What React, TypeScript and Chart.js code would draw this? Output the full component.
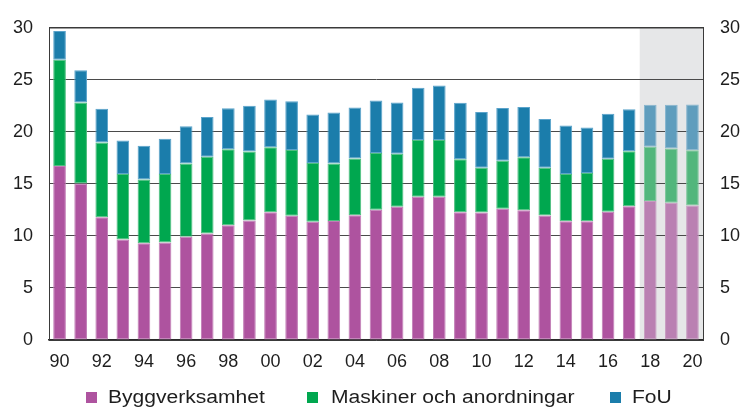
import { useEffect, useRef } from "react";
import { Chart, registerables } from "chart.js";

Chart.register(...registerables);

const years = [
  "1990", "1991", "1992", "1993", "1994", "1995", "1996", "1997", "1998", "1999",
  "2000", "2001", "2002", "2003", "2004", "2005", "2006", "2007", "2008", "2009",
  "2010", "2011", "2012", "2013", "2014", "2015", "2016", "2017", "2018", "2019", "2020",
];

const xTickLabels = [
  "90", "", "92", "", "94", "", "96", "", "98", "",
  "00", "", "02", "", "04", "", "06", "", "08", "",
  "10", "", "12", "", "14", "", "16", "", "18", "", "20",
];

const byggverksamhet = [
  16.73, 15.05, 11.8, 9.65, 9.3, 9.37, 9.93, 10.24, 11.02, 11.49,
  12.27, 11.93, 11.36, 11.43, 11.99, 12.52, 12.8, 13.77, 13.77, 12.27,
  12.24, 12.61, 12.46, 11.96, 11.4, 11.4, 12.33, 12.86, 13.36, 13.18, 12.93,
];

const maskiner = [
  10.21, 7.77, 7.18, 6.3, 6.12, 6.58, 7.02, 7.37, 7.31, 6.62,
  6.24, 6.33, 5.66, 5.52, 5.46, 5.46, 5.09, 5.46, 5.46, 5.09,
  4.31, 4.62, 5.09, 4.59, 4.55, 4.65, 5.09, 5.28, 5.22, 5.21, 5.3,
];

const fou = [
  2.75, 3.09, 3.25, 3.22, 3.25, 3.38, 3.59, 3.81, 3.93, 4.4,
  4.59, 4.69, 4.65, 4.9, 4.9, 5.03, 4.93, 5.0, 5.22, 5.43,
  5.37, 5.06, 4.84, 4.68, 4.66, 4.37, 4.31, 4.03, 4.02, 4.21, 4.41,
];

const seriesNames = ["Byggverksamhet", "Maskiner och anordningar", "FoU"];
const firstForecastIndex = 28;

const solidColors = ["#AE539F", "#00A74F", "#1B7DAB"];
const solidEdges = ["#C07CB5", "#4DBE7E", "#5AA3CB"];
const forecastColors = ["#BA80B2", "#52B67C", "#5F9DBD"];
const forecastEdges = ["#C79BC0", "#7CC69A", "#86B5CE"];

const yMin = 0;
const yMax = 30;
const yStep = 5;

const FONT = "'Liberation Sans', Arial, sans-serif";

const forecastShade = {
  id: "forecastShade",
  beforeDraw(chart: any) {
    const { ctx, chartArea, scales } = chart;
    const x = scales.x;
    const step = x.getPixelForValue(1) - x.getPixelForValue(0);
    const left = x.getPixelForValue(firstForecastIndex) - step / 2;
    ctx.save();
    ctx.fillStyle = "#E6E7E8";
    ctx.fillRect(left, chartArea.top, chartArea.right - left, chartArea.bottom - chartArea.top);
    ctx.restore();
  },
};

const legendBoxX = [86, 307, 610];
const legendTextX = [108, 331, 632];

const customLegend = {
  id: "customLegend",
  afterDraw(chart: any) {
    const { ctx } = chart;
    ctx.save();
    seriesNames.forEach((name, i) => {
      ctx.fillStyle = solidColors[i];
      ctx.fillRect(legendBoxX[i], 392, 11, 11);
      ctx.save();
      ctx.translate(legendTextX[i], 403);
      ctx.scale(1.17, 1);
      ctx.fillStyle = "#1e1e1e";
      ctx.font = `18px ${FONT}`;
      ctx.textBaseline = "alphabetic";
      ctx.textAlign = "left";
      ctx.fillText(name, 0, 0);
      ctx.restore();
    });
    ctx.restore();
  },
};

function colorsFor(seriesIndex: number, fills: string[], forecast: string[]) {
  return years.map((_, i) =>
    i >= firstForecastIndex ? forecast[seriesIndex] : fills[seriesIndex]
  );
}

export default function App() {
  const canvasRef = useRef<HTMLCanvasElement | null>(null);

  useEffect(() => {
    const canvas = canvasRef.current;
    if (!canvas) return;
    const seriesData = [byggverksamhet, maskiner, fou];
    const chart = new Chart(canvas, {
      type: "bar",
      data: {
        labels: years,
        datasets: seriesData.map((d, i) => ({
          label: seriesNames[i],
          data: d,
          backgroundColor: colorsFor(i, solidColors, forecastColors),
          borderColor: colorsFor(i, solidEdges, forecastEdges),
          borderWidth: 1,
          borderSkipped: false,
          categoryPercentage: 1,
          barPercentage: 0.6,
          yAxisID: "y",
        })),
      },
      options: {
        responsive: false,
        animation: false,
        layout: { padding: { top: 20, bottom: 0, left: 0, right: 0 } },
        plugins: {
          legend: { display: false },
          tooltip: { enabled: false },
        },
        scales: {
          x: {
            stacked: true,
            grid: { display: false, drawTicks: false },
            border: { display: true, color: "#2a2a2a", width: 1.6 },
            ticks: {
              autoSkip: false,
              maxRotation: 0,
              padding: 11,
              color: "#1e1e1e",
              font: { size: 18, family: FONT },
              callback: (_v: any, i: number) => xTickLabels[i],
            },
            afterFit: (s: any) => {
              s.height = 67;
            },
          },
          y: {
            stacked: true,
            position: "left",
            min: yMin,
            max: yMax,
            grid: {
              color: (c: any) => (c.tick && c.tick.value === yMax ? "#3a3a3a" : "#4a4a4a"),
              lineWidth: (c: any) => (c.tick && c.tick.value === yMax ? 1.6 : 1),
              drawTicks: false,
            },
            border: { display: true, color: "#3a3a3a", width: 1 },
            ticks: {
              stepSize: yStep,
              padding: 16,
              color: "#1e1e1e",
              font: { size: 18, family: FONT },
            },
            afterFit: (s: any) => {
              s.width = 49;
            },
          },
          y2: {
            position: "right",
            min: yMin,
            max: yMax,
            grid: { display: false, drawTicks: false },
            border: { display: true, color: "#3a3a3a", width: 1 },
            ticks: {
              stepSize: yStep,
              padding: 17,
              color: "#1e1e1e",
              font: { size: 18, family: FONT },
            },
            afterFit: (s: any) => {
              s.width = 38;
            },
          },
        },
      },
      plugins: [forecastShade, customLegend],
    });
    return () => chart.destroy();
  }, []);

  return (
    <div style={{ position: "fixed", left: 0, top: 0, width: 741, height: 407, background: "#fff" }}>
      <canvas ref={canvasRef} width={741} height={407} style={{ display: "block" }} />
    </div>
  );
}
